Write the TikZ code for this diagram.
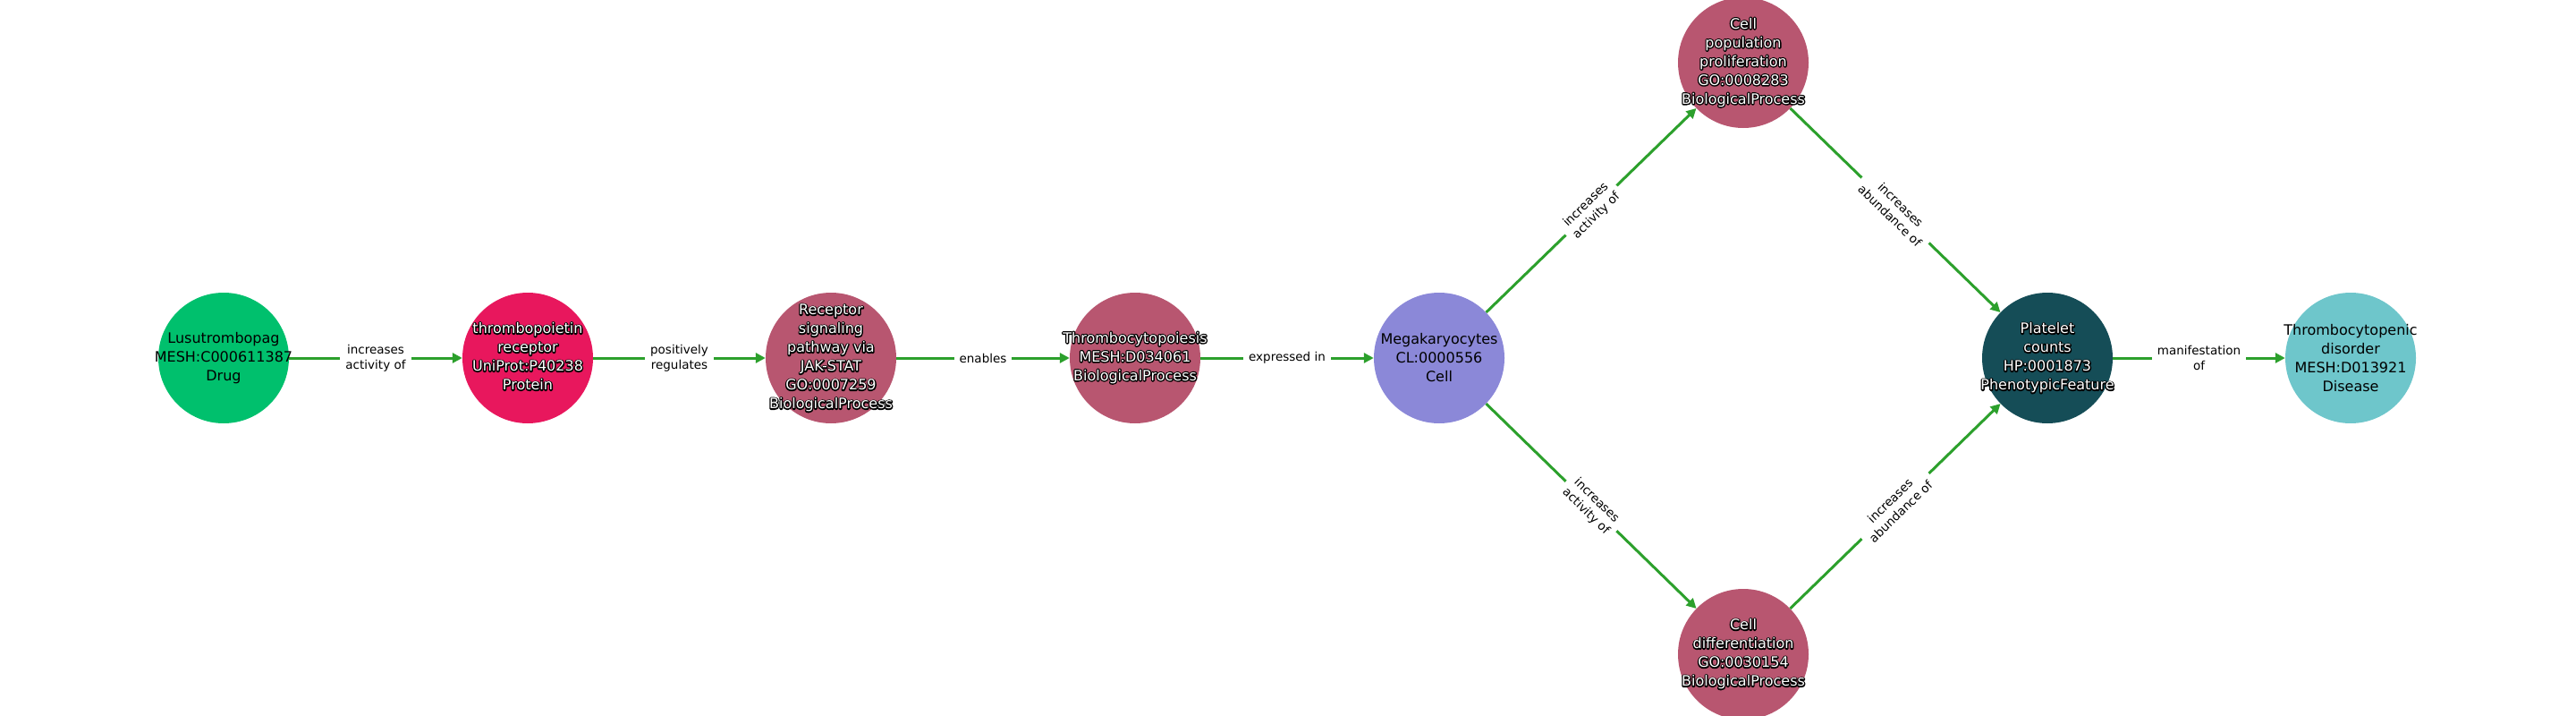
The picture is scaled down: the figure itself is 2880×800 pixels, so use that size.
\documentclass[tikz,border=0pt]{standalone}
\usepackage{fontspec}
\setmainfont{DejaVu Sans}
\usetikzlibrary{arrows.meta}
\definecolor{cdrug}{HTML}{00C06D}
\definecolor{cprot}{HTML}{E8175D}
\definecolor{cbio}{HTML}{B85670}
\definecolor{ccell}{HTML}{8B88D8}
\definecolor{cphen}{HTML}{154D57}
\definecolor{cdis}{HTML}{6EC6CB}
\definecolor{cedge}{HTML}{2CA02C}
\newcommand\lines[1]{\begin{tabular}{@{}c@{}}#1\end{tabular}}
\newcommand\outl[1]{\leavevmode\rlap{\special{pdf:bcolor [0] [0]}\special{pdf:literal direct 2 Tr 2.6 w 1 j 1 J}\lines{#1}\special{pdf:literal direct 0 Tr}\special{pdf:ecolor}}\textcolor{white}{\lines{#1}}}
\tikzset{
  circ/.style={circle, minimum size=146pt, inner sep=0pt, draw=none},
  ntext/.style={align=center, inner sep=0pt, font=\fontsize{16}{21}\selectfont, text=black},
  edge/.style={draw=cedge, line width=3pt, -{Triangle[length=11pt,width=11pt]}},
  elab/.style={fill=white, inner xsep=6pt, inner ysep=2pt, align=center, sloped,
    font=\fontsize{13.5}{17}\selectfont, text=black}
}
\begin{document}
\begin{tikzpicture}[x=1pt,y=-1pt]
\useasboundingbox (0,0) rectangle (2880,800);
% nodes
\node[circ, fill=cdrug] (lus) at (250,400) {};
\node[circ, fill=cprot] (tpr) at (590,400) {};
\node[circ, fill=cbio]  (rsp) at (929,400) {};
\node[circ, fill=cbio]  (thr) at (1269,400) {};
\node[circ, fill=ccell] (meg) at (1609,400) {};
\node[circ, fill=cbio]  (cpp) at (1949,70) {};
\node[circ, fill=cbio]  (cdf) at (1949,731) {};
\node[circ, fill=cphen] (plt) at (2289,400) {};
\node[circ, fill=cdis]  (tcd) at (2628,400) {};
% edges
\draw[edge] (lus) -- node[elab] {increases\\activity of} (tpr);
\draw[edge] (tpr) -- node[elab] {positively\\regulates} (rsp);
\draw[edge] (rsp) -- node[elab] {enables} (thr);
\draw[edge] (thr) -- node[elab] {expressed in} (meg);
\draw[edge] (meg) -- node[elab] {increases\\activity of} (cpp);
\draw[edge] (meg) -- node[elab] {increases\\activity of} (cdf);
\draw[edge] (cpp) -- node[elab] {increases\\abundance of} (plt);
\draw[edge] (cdf) -- node[elab] {increases\\abundance of} (plt);
\draw[edge] (plt) -- node[elab] {manifestation\\of} (tcd);
% texts
\node[ntext] (lus-t) at (lus) {Lusutrombopag\\MESH:C000611387\\Drug};
\node[ntext] (tpr-t) at (tpr) {\outl{thrombopoietin\\receptor\\UniProt:P40238\\Protein}};
\node[ntext] (rsp-t) at (rsp) {\outl{Receptor\\signaling\\pathway via\\JAK-STAT\\GO:0007259\\BiologicalProcess}};
\node[ntext] (thr-t) at (thr) {\outl{Thrombocytopoiesis\\MESH:D034061\\BiologicalProcess}};
\node[ntext] (meg-t) at (meg) {Megakaryocytes\\CL:0000556\\Cell};
\node[ntext] (cpp-t) at (cpp) {\outl{Cell\\population\\proliferation\\GO:0008283\\BiologicalProcess}};
\node[ntext] (cdf-t) at (cdf) {\outl{Cell\\differentiation\\GO:0030154\\BiologicalProcess}};
\node[ntext] (plt-t) at (plt) {\outl{Platelet\\counts\\HP:0001873\\PhenotypicFeature}};
\node[ntext] (tcd-t) at (tcd) {Thrombocytopenic\\disorder\\MESH:D013921\\Disease};
\end{tikzpicture}
\end{document}
